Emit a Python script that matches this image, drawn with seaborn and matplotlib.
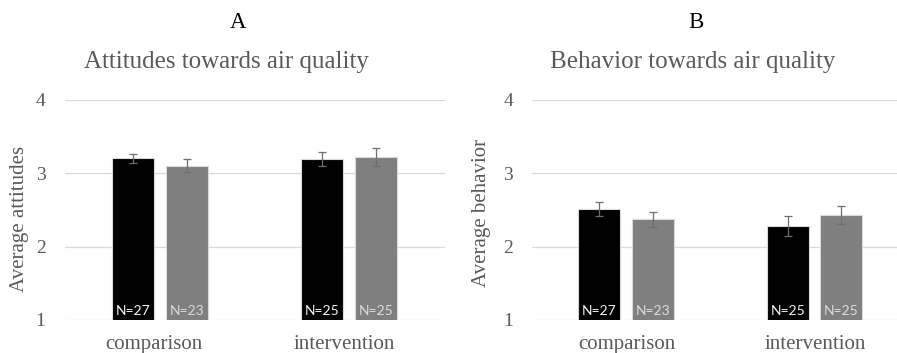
import matplotlib
matplotlib.use("Agg")
import matplotlib.pyplot as plt
import matplotlib.transforms as mtransforms
import pandas as pd
import seaborn as sns

# Survey results: mean score and standard error per group and measurement
groups = ["comparison", "intervention"]
times = ["pre", "post"]

attitude_means = {"pre": [3.20, 3.19], "post": [3.10, 3.22]}
attitude_errs = {"pre": [0.06, 0.10], "post": [0.09, 0.12]}
behavior_means = {"pre": [2.51, 2.28], "post": [2.37, 2.43]}
behavior_errs = {"pre": [0.09, 0.14], "post": [0.10, 0.12]}
sample_sizes = {"pre": [27, 25], "post": [23, 25]}

panel_letters = ["A", "B"]
panel_titles = ["Attitudes towards air quality", "Behavior towards air quality"]
y_labels = ["Average attitudes", "Average behavior"]
y_ticks = [1, 2, 3, 4]

bar_colors = ["#000000", "#7f7f7f"]
n_text_colors = ["#f5f5f5", "#dcdcdc"]
text_gray = "#595959"
serif = ["Liberation Serif", "DejaVu Serif"]


def long_table(means, errs):
    rows = []
    for t in times:
        for g, m, e, n in zip(groups, means[t], errs[t], sample_sizes[t]):
            rows.append({"group": g, "time": t, "mean": m, "err": e, "n": n})
    return pd.DataFrame(rows)


sns.set_theme(style="white")
plt.rcParams["font.family"] = serif

fig = plt.figure(figsize=(8.97, 3.53), dpi=100)
fig.patch.set_facecolor("white")

W, H = 897, 353
# axes boxes in pixels: left, right, top, bottom
boxes = [(65, 445, 99.5, 320), (531.7, 896.7, 99.5, 320)]
xlims = [(-0.5, 1.505), (-0.5, 1.436)]
title_x = [226, 693]
letter_x = [238, 696]
ylabel_pos = [(19, 219), (481, 212.5)]
ytick_pad = [14, 13.5]
xlabel_shift = [-5.5, 0.5]  # pixels

panels = [(attitude_means, attitude_errs), (behavior_means, behavior_errs)]

for i, (means, errs) in enumerate(panels):
    l, r, t, b = boxes[i]
    ax = fig.add_axes([l / W, 1 - b / H, (r - l) / W, (b - t) / H])
    df = long_table(means, errs)

    sns.barplot(
        data=df, x="group", y="mean", hue="time",
        order=groups, hue_order=times, palette=bar_colors,
        width=0.57, gap=0.22, errorbar=None, legend=False,
        edgecolor="#d9d9d9", linewidth=0.8, ax=ax, zorder=2,
    )

    # error bars and sample-size labels on each bar
    bar_sets = list(ax.containers)
    for k, container in enumerate(bar_sets):
        sub = df[df["time"] == times[k]].set_index("group").loc[groups]
        for bar, (_, row) in zip(container.patches, sub.iterrows()):
            cx = bar.get_x() + bar.get_width() / 2
            ax.errorbar(cx, row["mean"], yerr=row["err"], fmt="none",
                        ecolor="#6e6e6e", elinewidth=0.9, capsize=3.2,
                        capthick=0.9, zorder=3)
            ax.text(cx, 1.04, f"N={row['n']}", ha="center", va="bottom",
                    fontsize=10, family=["Lato", "DejaVu Sans"],
                    color=n_text_colors[k], zorder=4)

    ax.set_ylim(1, 4)
    ax.set_xlim(*xlims[i])
    ax.set_yticks(y_ticks)
    ax.set_yticklabels([str(v) for v in y_ticks])
    ax.yaxis.grid(True, color="#d9d9d9", linewidth=0.9, zorder=0)
    ax.xaxis.grid(False)
    ax.set_axisbelow(True)
    for s in ax.spines.values():
        s.set_visible(False)
    ax.tick_params(axis="y", length=0, pad=ytick_pad[i], labelsize=14,
                   labelcolor=text_gray)
    ax.tick_params(axis="x", length=0, pad=10.5, labelsize=15,
                   labelcolor=text_gray)
    shift = mtransforms.ScaledTranslation(xlabel_shift[i] / 100, 0,
                                          fig.dpi_scale_trans)
    for lab in ax.get_xticklabels():
        lab.set_family(serif)
        lab.set_transform(lab.get_transform() + shift)
    for lab in ax.get_yticklabels():
        lab.set_family(serif)

    ax.set_xlabel("")
    ax.set_ylabel(y_labels[i], fontsize=15, color=text_gray, family=serif)
    lx, ly = ylabel_pos[i]
    ax.yaxis.label.set_rotation_mode("anchor")
    ax.yaxis.label.set_va("center")
    ax.yaxis.label.set_ha("center")
    ax.yaxis.set_label_coords((lx - l) / (r - l), (b - ly) / (b - t))

    fig.text(title_x[i] / W, 1 - 68.3 / H, panel_titles[i], ha="center",
             va="baseline", fontsize=18, color=text_gray, family=serif)
    fig.text(letter_x[i] / W, 1 - 28.3 / H, panel_letters[i], ha="center",
             va="baseline", fontsize=16.5, color="black", family=serif)

fig.savefig("out.png", dpi=100, facecolor="white")
